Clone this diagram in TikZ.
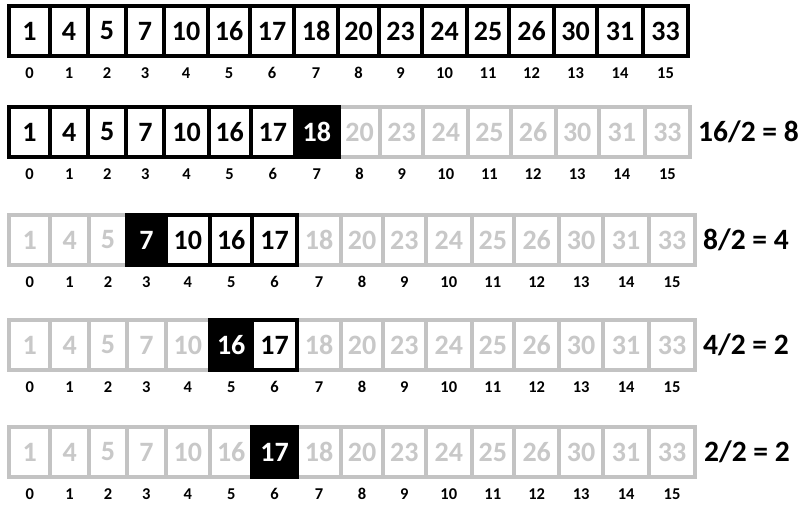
\documentclass[tikz,border=0pt]{standalone}
\usepackage{fontspec}
\setmainfont{Carlito}
\usepackage{tikz}
\definecolor{dim}{RGB}{195,195,195}
\definecolor{dimtext}{RGB}{200,200,200}
% index / left edge / right edge / value
\newcommand{\cellrow}{0/9/50/1,1/50/88/4,2/88/126/5,3/126/164/7,4/164/208/10,
  5/208/250/16,6/250/294/17,7/294/338/18,8/338/379/20,9/379/422/23,
  10/422/467/24,11/467/509/25,12/509/554/26,13/554/597/30,14/597/643/31,
  15/643/688/33}

\begin{document}
\begin{tikzpicture}[x=1pt,y=-1pt,
  font=\bfseries,
  cell/.style={draw,line width=4pt,inner sep=0pt,minimum height=50pt,
               fill=white,font=\fontsize{28}{28}\selectfont\bfseries},
  off/.style={cell,draw=dim,text=dimtext},
  on/.style={cell,draw=black,text=black},
  mid/.style={cell,draw=black,fill=black,text=white},
  idx/.style={font=\fontsize{16.5}{16.5}\selectfont\bfseries,inner sep=0pt},
  half/.style={font=\fontsize{29.5}{29.5}\selectfont\bfseries,anchor=west,
               inner sep=0pt}]

\useasboundingbox (0,0) rectangle (802,505);

% row / top / first / last / middle / stretch
\foreach \r/\y/\lo/\hi/\m/\s in {1/6/0/15/-1/1,2/107/0/7/7/1.003,
    3/215/3/6/3/1.01,4/320/5/6/5/1.01,5/427/6/6/6/1.01}{
  % cells outside the range and the indices
  \foreach \i/\xa/\xb/\v in \cellrow{
    \pgfmathtruncatemacro\inr{(\i>=\lo)&&(\i<=\hi)}
    \ifnum\inr=0
      \node[off,minimum width={(\xb-\xa)*\s*1pt}] (c\r-\i)
        at ({9+((\xa+\xb)/2-9)*\s},{\y+25}) {\v};
    \fi
    \node[idx] (i\r-\i) at ({9+((\xa+\xb)/2-9)*\s},{\y+67}) {\i};
  }
  % cells in the range
  \foreach \i/\xa/\xb/\v in \cellrow{
    \pgfmathtruncatemacro\inr{(\i>=\lo)&&(\i<=\hi)}
    \ifnum\inr=1
      \ifnum\i=\m \def\st{mid}\else\def\st{on}\fi
      \node[style=\st,minimum width={(\xb-\xa)*\s*1pt}] (c\r-\i)
        at ({9+((\xa+\xb)/2-9)*\s},{\y+25}) {\v};
    \fi
  }
}

\node[half] (q2) at (698,132) {16/2 = 8};
\node[half] (q3) at (703,240) {8/2 = 4};
\node[half] (q4) at (703,345) {4/2 = 2};
\node[half] (q5) at (704,452) {2/2 = 2};
\end{tikzpicture}
\end{document}
